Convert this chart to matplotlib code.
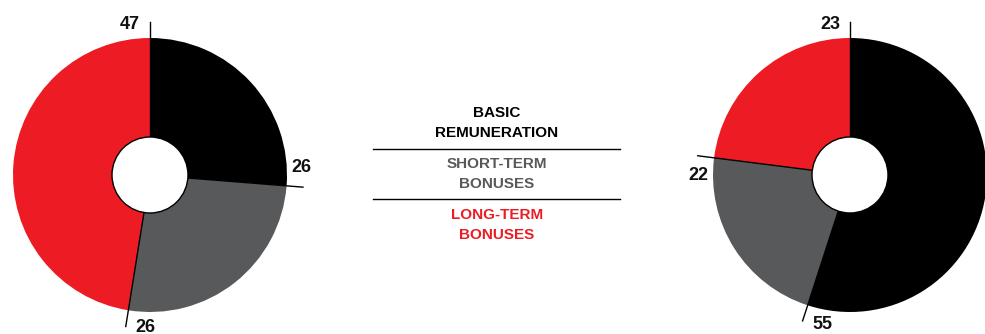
import numpy as np
import matplotlib
matplotlib.use("Agg")
import matplotlib.pyplot as plt
from matplotlib.patches import Circle

# data
categories = ["BASIC\nREMUNERATION", "SHORT-TERM\nBONUSES", "LONG-TERM\nBONUSES"]
left_values = [26, 26, 47]
right_values = [55, 22, 23]
colors = ["#000000", "#58595B", "#ED1C24"]

W, H = 985, 334
fig = plt.figure(figsize=(W / 100, H / 100), dpi=100)
ax = fig.add_axes([0, 0, 1, 1])
plt.rcParams["font.family"] = ["Liberation Sans", "DejaVu Sans"]

R = 137
r_in = 38


def donut(ax, values, cx, cy):
    ax.pie(values, colors=colors, startangle=90, counterclock=False,
           radius=R, center=(cx, cy), frame=True,
           wedgeprops=dict(linewidth=0))
    total = float(sum(values))
    # boundary lines + labels at the end of each wedge (clockwise)
    ang = 90.0
    for v in values:
        ang -= 360.0 * v / total
        a = np.deg2rad(ang)
        ax.plot([cx + r_in * np.cos(a), cx + 1.12 * R * np.cos(a)],
                [cy + r_in * np.sin(a), cy + 1.12 * R * np.sin(a)],
                color="black", lw=1, zorder=3)
        t = np.deg2rad(ang + 7.5)
        ax.text(cx + 1.11 * R * np.cos(t), cy + 1.11 * R * np.sin(t), str(v),
                ha="center", va="center", fontsize=13, fontweight="bold",
                color="#111111", zorder=4)
    ax.add_patch(Circle((cx, cy), r_in, facecolor="white",
                        edgecolor="black", lw=1, zorder=5))


donut(ax, left_values, 150, H - 175)
donut(ax, right_values, 850, H - 175)

# legend in the middle
legend_y = [H - 123, H - 174, H - 225]
for lab, col, y in zip(categories, colors, legend_y):
    ax.text(497, y, lab, ha="center", va="center", fontsize=11,
            fontweight="bold", color=col, linespacing=1.6)
for y in [H - 149, H - 199]:
    ax.plot([373, 620], [y, y], color="black", lw=1)

ax.set_xlim(0, W)
ax.set_ylim(0, H)
ax.set_aspect("equal")
ax.axis("off")

fig.savefig("out.png", dpi=100)
